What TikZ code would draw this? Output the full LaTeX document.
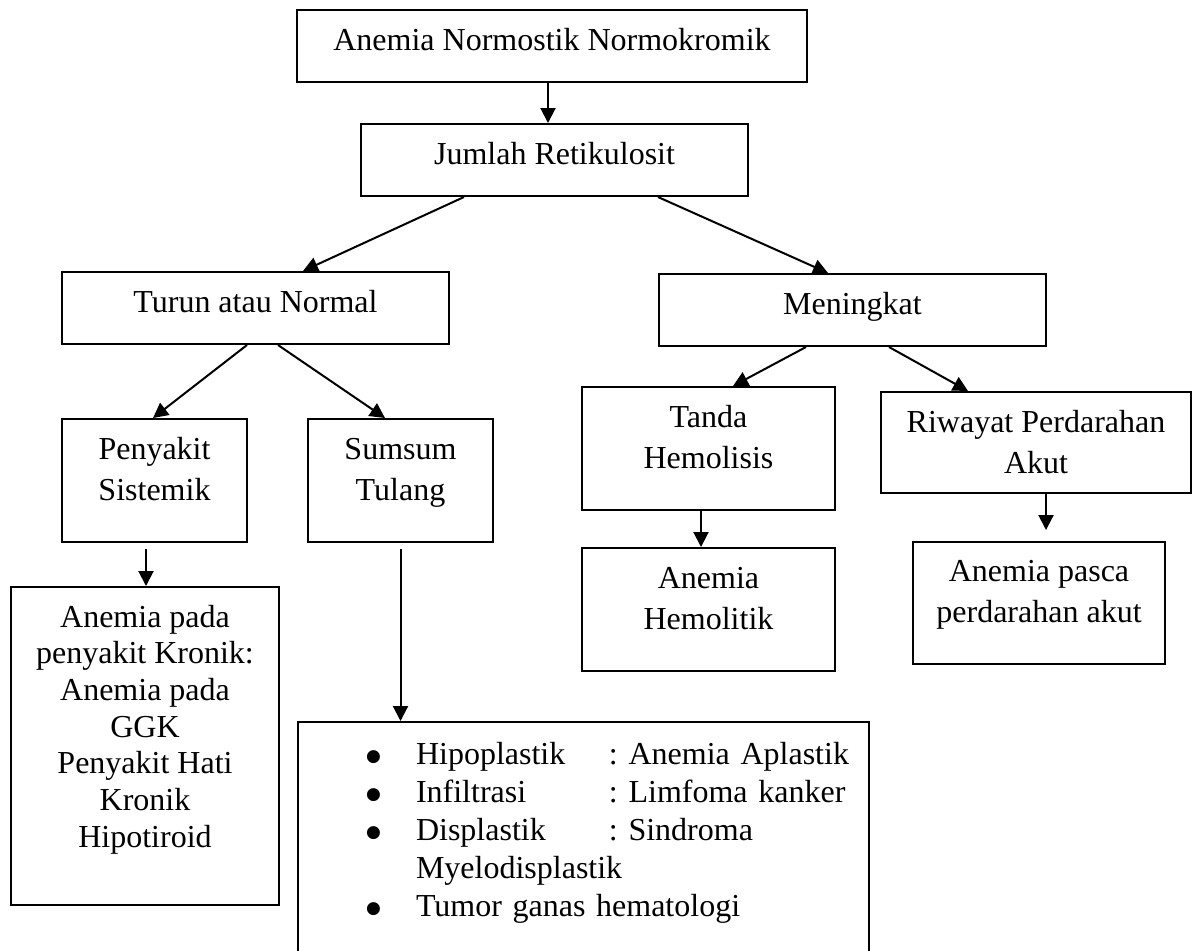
\documentclass[tikz,border=0pt]{standalone}
\usepackage{fontspec}
\setmainfont{Liberation Serif}
\newfontfamily\dotfont{DejaVu Sans}
\usepackage{tikz}
\usetikzlibrary{arrows.meta}
\frenchspacing
\newcommand{\blt}{\raisebox{1.2pt}{\dotfont\fontsize{8.5}{10}\selectfont ●}}

\begin{document}
\begin{tikzpicture}[x=0.5pt,y=-0.5pt,font=\fontsize{16}{20.5}\selectfont,>={Triangle[length=7.5pt,width=7.5pt]},
  box/.style={draw,line width=1pt,align=center,inner sep=0pt,execute at begin node={\rule{0pt}{11pt}}},
  lift/.style={execute at end node={\rule[-#1]{0pt}{0pt}}},
  list/.style={draw,line width=1pt,anchor=north west,align=left,text width=285.5pt,inner xsep=0pt,inner ysep=7.7pt,font=\fontsize{16}{19}\selectfont},
  link/.style={->,line width=1pt}]
\useasboundingbox (0,0) rectangle (1197,950);
\clip (0,0) rectangle (1197,950);
% first two levels
\node[box,lift=7pt,minimum width=255pt,minimum height=36pt] (anm) at (552,46) {Anemia Normostik Normokromik};
\node[box,lift=7pt,minimum width=193.5pt,minimum height=36pt] (jml) at (554.5,160) {Jumlah Retikulosit};
\node[box,lift=7pt,minimum width=193.5pt,minimum height=36pt] (tur) at (255.5,308) {Turun atau Normal};
\node[box,lift=7pt,minimum width=193.5pt,minimum height=36pt] (men) at (852.5,310) {Meningkat};
% causes
\node[box,lift=11.5pt,minimum width=92.5pt,minimum height=61.5pt] (pen) at (154.5,480.5) {Penyakit\\Sistemik};
\node[box,lift=11.5pt,minimum width=92.5pt,minimum height=61.5pt] (sum) at (400.5,480.5) {Sumsum\\Tulang};
\node[box,lift=11.5pt,minimum width=126.5pt,minimum height=61.5pt] (tan) at (708.5,448.5) {Tanda\\Hemolisis};
\node[box,lift=1pt,minimum width=155pt,minimum height=50.5pt] (riw) at (1036,442.5) {Riwayat Perdarahan\\Akut};
% diagnoses
\node[box,lift=11.5pt,minimum width=126.5pt,minimum height=61.5pt] (hem) at (708.5,609.5) {Anemia\\Hemolitik};
\node[box,lift=11.5pt,minimum width=126pt,minimum height=61pt] (pas) at (1039,603) {Anemia pasca\\perdarahan akut};
\node[box,lift=20pt,minimum width=134pt,minimum height=159pt,font=\fontsize{16}{18.35}\selectfont] (kro) at (145,746)
  {Anemia pada\\penyakit Kronik:\\Anemia pada\\GGK\\Penyakit Hati\\Kronik\\Hipotiroid};
\node[list] (sst) at (297,721) {\begin{tabular}[t]{@{\hspace{34pt}}p{25pt}@{}p{96.5pt}@{}l@{}}
  \blt & Hipoplastik & : Anemia Aplastik\\
  \blt & Infiltrasi & : Limfoma kanker\\
  \blt & Displastik & : Sindroma\\
  & \multicolumn{2}{@{}l@{}}{Myelodisplastik}\\
  \blt & \multicolumn{2}{@{}l@{}}{Tumor ganas hematologi}\\
  & & \\
\end{tabular}};
% arrows
\draw[link] ([xshift=-2pt]anm.south) -- ([xshift=-3.25pt]jml.north);
\draw[link] ([xshift=-45.25pt]jml.south) -- ([xshift=23.75pt]tur.north);
\draw[link] ([xshift=51.75pt]jml.south) -- ([xshift=-12.25pt]men.north);
\draw[link] ([xshift=-4.25pt]tur.south) -- ([xshift=-0.75pt]pen.north);
\draw[link] ([xshift=11.25pt]tur.south) -- ([xshift=-7.75pt]sum.north);
\draw[link] ([xshift=-23.25pt]men.south) -- ([xshift=12.25pt]tan.north);
\draw[link] ([xshift=18.25pt]men.south) -- ([xshift=-34pt]riw.north);
\draw[link] ([xshift=-3.75pt]tan.south) -- ([xshift=-3.75pt]hem.north);
\draw[link] ([xshift=5pt]riw.south) -- ([xshift=3.5pt,yshift=5.5pt]pas.north);
\draw[link] ([xshift=-4.25pt,yshift=-3pt]pen.south) -- ([xshift=0.5pt]kro.north);
\draw[link] ([yshift=-3pt]sum.south) -- (sum.south |- sst.north);
\end{tikzpicture}
\end{document}
